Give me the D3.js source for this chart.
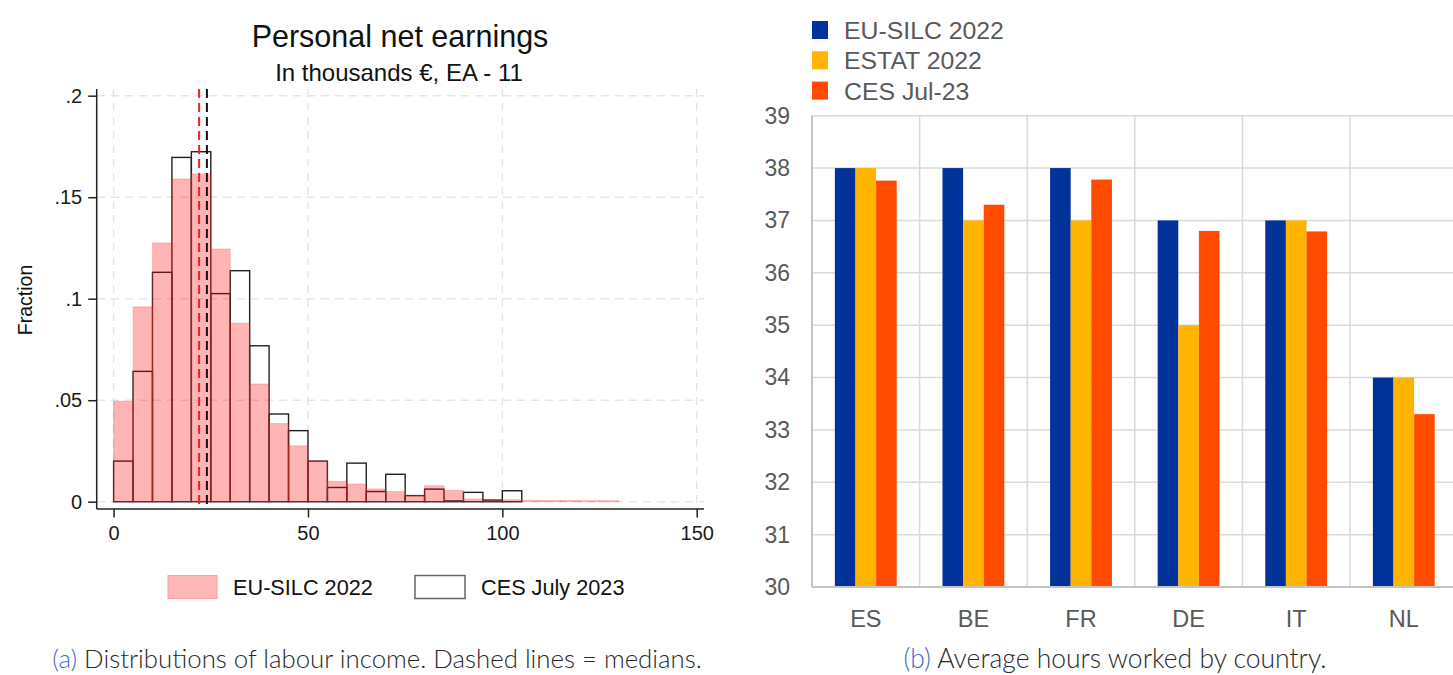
<!DOCTYPE html>
<html><head><meta charset="utf-8">
<script src="https://cdn.jsdelivr.net/npm/d3@7"></script>
<style>
html,body{margin:0;padding:0;background:#fff;}
svg{display:block;}
</style></head>
<body>
<svg id="c" width="1453" height="675"></svg>
<script>
// ---------- Data: left panel (histogram, bins of 5 thousand €) ----------
const binWidth = 5;
const silcFractions = [0.0495, 0.096, 0.1275, 0.159, 0.1615, 0.1245, 0.088, 0.058, 0.0385, 0.0275,
  0.020, 0.010, 0.0087, 0.0063, 0.005, 0.003, 0.0079, 0.0056, 0.0014, 0.001,
  0.001, 0.0007, 0.0006, 0.0006, 0.0005, 0.0005];
const cesFractions = [0.020, 0.0642, 0.113, 0.1696, 0.1724, 0.1025, 0.1138, 0.0768, 0.0432, 0.035,
  0.020, 0.007, 0.019, 0.005, 0.0135, 0.003, 0.0062, 0.0004, 0.0046, 0.0008, 0.0054];
const medianSilc = 22;
const medianCes = 24;
const leftXTicks = [0, 50, 100, 150];
const leftYTicks = [0, 0.05, 0.1, 0.15, 0.2];
const leftYTickLabels = ["0", ".05", ".1", ".15", ".2"];
const leftLegend = ["EU-SILC 2022", "CES July 2023"];

// ---------- Data: right panel (grouped bars) ----------
const countries = ["ES", "BE", "FR", "DE", "IT", "NL"];
const seriesNames = ["EU-SILC 2022", "ESTAT 2022", "CES Jul-23"];
const euSilcHours = [38, 38, 38, 37, 37, 34];
const estatHours = [38, 37, 37, 35, 37, 34];
const cesHours = [37.76, 37.3, 37.78, 36.8, 36.79, 33.3];
const rightYTicks = [30, 31, 32, 33, 34, 35, 36, 37, 38, 39];

const svg = d3.select("#c");
const LFONT = "'Liberation Sans', Arial, sans-serif";

// ================= LEFT PANEL =================
const lx = d3.scaleLinear().domain([0, 150]).range([113.6, 696.7]);
const ly = d3.scaleLinear().domain([0, 0.2]).range([501.7, 95.7]);
const L = svg.append("g");

// grid (dashed)
L.selectAll(".gx").data(leftXTicks).join("line")
  .attr("x1", d => lx(d)).attr("x2", d => lx(d)).attr("y1", 89).attr("y2", 509)
  .attr("stroke", "#e6e6e6").attr("stroke-width", 1.5).attr("stroke-dasharray", "8,6");
L.selectAll(".gy").data(leftYTicks).join("line")
  .attr("x1", 97).attr("x2", 704).attr("y1", d => ly(d)).attr("y2", d => ly(d))
  .attr("stroke", "#e6e6e6").attr("stroke-width", 1.5).attr("stroke-dasharray", "8,6");

// CES outline bars (drawn first, pink overlays them)
L.selectAll(".ces").data(cesFractions).join("rect")
  .attr("x", (d, i) => lx(i * binWidth)).attr("width", lx(binWidth) - lx(0))
  .attr("y", d => ly(d)).attr("height", d => ly(0) - ly(d))
  .attr("fill", "none").attr("stroke", "#222").attr("stroke-width", 1.4);

// EU-SILC translucent bars
L.selectAll(".silc").data(silcFractions).join("rect")
  .attr("x", (d, i) => lx(i * binWidth)).attr("width", lx(binWidth) - lx(0))
  .attr("y", d => ly(d)).attr("height", d => ly(0) - ly(d))
  .attr("fill", "rgba(255,0,0,0.29)").attr("stroke", "rgba(255,60,60,0.25)").attr("stroke-width", 1);

// medians
L.append("line").attr("x1", lx(medianSilc)).attr("x2", lx(medianSilc)).attr("y1", 89).attr("y2", 509)
  .attr("stroke", "#ff1a1a").attr("stroke-width", 2).attr("stroke-dasharray", "9,5");
L.append("line").attr("x1", lx(medianCes)).attr("x2", lx(medianCes)).attr("y1", 89).attr("y2", 509)
  .attr("stroke", "#111").attr("stroke-width", 2).attr("stroke-dasharray", "9,5");

// axes
const lxAxis = d3.axisBottom(lx).tickValues(leftXTicks).tickSize(8.5).tickPadding(8).tickSizeOuter(0);
const gx = L.append("g").attr("transform", "translate(0,509)").call(lxAxis);
gx.select(".domain").attr("d", "M96.7,0H704").attr("stroke", "#222").attr("stroke-width", 1.5);
gx.selectAll(".tick line").attr("stroke", "#222").attr("stroke-width", 1.5);
gx.selectAll(".tick text").attr("font-family", LFONT).attr("font-size", 20).attr("fill", "#1a1a1a");

const lyAxis = d3.axisLeft(ly).tickValues(leftYTicks).tickFormat((d, i) => leftYTickLabels[i])
  .tickSize(8.5).tickPadding(6).tickSizeOuter(0);
const gy = L.append("g").attr("transform", "translate(96.7,0)").call(lyAxis);
gy.select(".domain").attr("d", "M0,89V509").attr("stroke", "#222").attr("stroke-width", 1.5);
gy.selectAll(".tick line").attr("stroke", "#222").attr("stroke-width", 1.5);
gy.selectAll(".tick text").attr("font-family", LFONT).attr("font-size", 20).attr("fill", "#1a1a1a");

// titles
L.append("text").attr("x", 400).attr("y", 47).attr("text-anchor", "middle")
  .attr("font-family", LFONT).attr("font-size", 30.5).attr("fill", "#111").text("Personal net earnings");
L.append("text").attr("x", 399).attr("y", 81).attr("text-anchor", "middle")
  .attr("font-family", LFONT).attr("font-size", 24).attr("fill", "#111").text("In thousands €, EA - 11");
L.append("text").attr("transform", "translate(32,300) rotate(-90)").attr("text-anchor", "middle")
  .attr("font-family", LFONT).attr("font-size", 19.5).attr("fill", "#111").text("Fraction");

// legend
L.append("rect").attr("x", 168).attr("y", 575.5).attr("width", 49).attr("height", 23)
  .attr("fill", "#ffb6b6").attr("stroke", "#ff9e9e").attr("stroke-width", 1);
L.append("text").attr("x", 233).attr("y", 594.5).attr("font-family", LFONT).attr("font-size", 21.7)
  .attr("fill", "#111").text(leftLegend[0]);
L.append("rect").attr("x", 415).attr("y", 575.5).attr("width", 50).attr("height", 23)
  .attr("fill", "#fff").attr("stroke", "#666").attr("stroke-width", 1.5);
L.append("text").attr("x", 481).attr("y", 594.5).attr("font-family", LFONT).attr("font-size", 21.7)
  .attr("fill", "#111").text(leftLegend[1]);

// ================= RIGHT PANEL =================
const R = svg.append("g");
const rx0 = d3.scaleBand().domain(countries).range([812, 1457.6]).padding(0);
const rx1 = d3.scaleBand().domain(seriesNames).range([0, rx0.bandwidth()]).paddingInner(0).paddingOuter(1.11);
const ry = d3.scaleLinear().domain([30, 39]).range([587, 115.7]);
const colors = ["#003299", "#ffb400", "#ff4b00"];
const seriesValues = [euSilcHours, estatHours, cesHours];

// grid
R.selectAll(".hg").data(rightYTicks).join("line")
  .attr("x1", 812).attr("x2", 1453).attr("y1", d => ry(d)).attr("y2", d => ry(d))
  .attr("stroke", "#dadada").attr("stroke-width", 1.5);
R.selectAll(".vg").data(countries.slice(1)).join("line")
  .attr("x1", d => rx0(d)).attr("x2", d => rx0(d)).attr("y1", ry(39)).attr("y2", ry(30))
  .attr("stroke", "#dadada").attr("stroke-width", 1.5);

// bars
const groups = R.selectAll(".grp").data(countries).join("g")
  .attr("transform", d => `translate(${rx0(d)},0)`);
groups.selectAll("rect").data((c, ci) => seriesNames.map((s, si) => ({ s, si, v: seriesValues[si][ci] })))
  .join("rect")
  .attr("x", d => rx1(d.s)).attr("width", rx1.bandwidth())
  .attr("y", d => ry(d.v)).attr("height", d => ry(30) - ry(d.v))
  .attr("fill", d => colors[d.si]);

// axes
const RFONT = "'Liberation Sans', Arial, sans-serif";
const ryAxis = d3.axisLeft(ry).tickValues(rightYTicks).tickFormat(d3.format("d")).tickSize(0).tickPadding(22);
const gry = R.append("g").attr("transform", "translate(812,0)").call(ryAxis);
gry.select(".domain").attr("d", `M0,${ry(39)}V${ry(30)}`).attr("stroke", "#c4c4c4").attr("stroke-width", 2);
gry.selectAll(".tick text").attr("font-family", RFONT).attr("font-size", 23).attr("fill", "#595959");

const rxAxis = d3.axisBottom(rx0).tickSize(0).tickPadding(23);
const grx = R.append("g").attr("transform", `translate(0,${ry(30)})`).call(rxAxis);
grx.select(".domain").attr("d", "M812,0H1453").attr("stroke", "#c4c4c4").attr("stroke-width", 2);
grx.selectAll(".tick text").attr("font-family", RFONT).attr("font-size", 23.5).attr("fill", "#595959");

// legend
const lg = R.selectAll(".lg").data(seriesNames).join("g")
  .attr("transform", (d, i) => `translate(812,${21 + i * 30.3})`);
lg.append("rect").attr("width", 16).attr("height", 18).attr("fill", (d, i) => colors[i]);
lg.append("text").attr("x", 32).attr("y", 18).attr("font-family", RFONT).attr("font-size", 24.8)
  .attr("fill", "#595959").text(d => d);

// ================= CAPTIONS =================
const CFONT = "Lato, 'Open Sans', sans-serif";
const capA = svg.append("text").attr("x", 377).attr("y", 668).attr("text-anchor", "middle")
  .attr("font-family", CFONT).attr("font-size", 25.8).attr("font-weight", 300).attr("fill", "#2a2a2a");
capA.append("tspan").attr("fill", "#3f6ec6").text("(a)");
capA.append("tspan").text(" Distributions of labour income.  Dashed lines = medians.");
const capB = svg.append("text").attr("x", 1115).attr("y", 668).attr("text-anchor", "middle")
  .attr("font-family", CFONT).attr("font-size", 26.5).attr("font-weight", 300).attr("fill", "#2a2a2a");
capB.append("tspan").attr("fill", "#3f6ec6").text("(b)");
capB.append("tspan").text(" Average hours worked by country.");
</script>
</body></html>
